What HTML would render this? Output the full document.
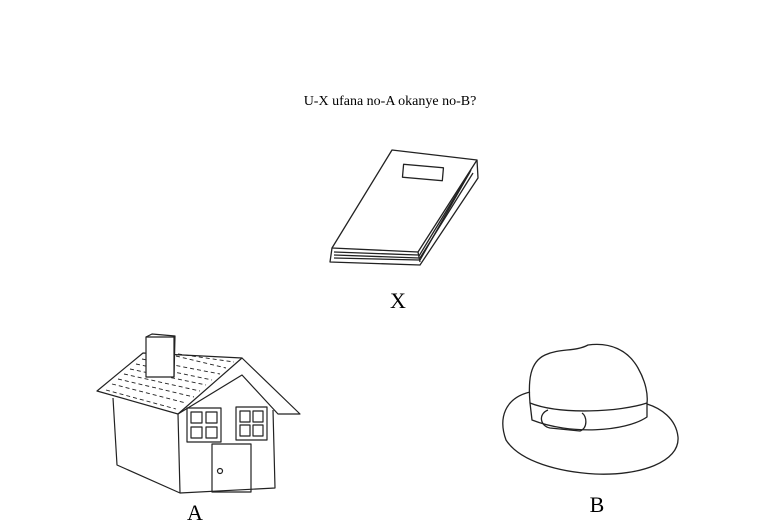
<!DOCTYPE html>
<html><head><meta charset="utf-8"><style>
html,body{margin:0;padding:0;background:#fff;}
svg{display:block;}
text{font-family:"Liberation Serif",serif;fill:#000;}
</style></head><body>
<svg width="783" height="529" viewBox="0 0 783 529">
<text x="390" y="105" font-size="14" text-anchor="middle">U-X ufana no-A okanye no-B?</text>

<g fill="none" stroke="#222" stroke-width="1.3" stroke-linejoin="round">
<path d="M392,150 L477,160 L418,252 L332,248 Z" fill="#fff"/>
<rect x="403" y="166" width="40" height="13" transform="rotate(5 423 172)"/>
<path d="M332,248 L330,262 L420,265 L478,178 L477,160"/>
<path d="M418,252 L420,262 M471,170 L420,260"/>
<path d="M334,252 L418,255 M334,255 L419,258 M334,258 L419,260 M470,172 L419,256 M473,173 L420,258"/>
</g>
<text x="398" y="308" font-size="22" text-anchor="middle">X</text>

<g fill="none" stroke="#222" stroke-width="1.2" stroke-linejoin="round">
<path d="M143,353 L242,358 L178,414 L97,391 Z" fill="#fff"/>
<path d="M242,358 L300,414 L278,414 L242,375 L178,414"/>
<path d="M113,398 L117,465 L180,493 L178,414"/>
<path d="M180,493 L275,488 L273,410"/>
<g stroke-dasharray="4 3" stroke-width="0.9">
<path d="M106,390 L176,409 M112,384 L186,403 M118,379 L194,397 M124,374 L200,391 M130,369 L206,385 M136,364 L212,380 M142,359 L220,374 M176,356 L226,368 M178,354 L234,362"/>
</g>
<rect x="146" y="337" width="28" height="40" fill="#fff"/>
<path d="M146,337 L152,334 L175,336 L174,377"/>
<rect x="187" y="408" width="34" height="34"/>
<rect x="191" y="412" width="11" height="11"/><rect x="206" y="412" width="11" height="11"/>
<rect x="191" y="427" width="11" height="11"/><rect x="206" y="427" width="11" height="11"/>
<rect x="236" y="407" width="31" height="33"/>
<rect x="240" y="411" width="10" height="11"/><rect x="253" y="411" width="10" height="11"/>
<rect x="240" y="425" width="10" height="11"/><rect x="253" y="425" width="10" height="11"/>
<rect x="212" y="444" width="39" height="48"/>
<circle cx="220" cy="471" r="2.5"/>
</g>
<text x="195" y="520" font-size="22" text-anchor="middle">A</text>

<g fill="none" stroke="#222" stroke-width="1.3" stroke-linejoin="round">
<path d="M530,392 C505,398 498,418 506,440 C520,462 560,472 595,474 C640,476 680,462 678,437 C676,418 660,408 647,404"/>
<path d="M530,403 C528,380 530,362 545,355 C560,348 575,352 588,345 C610,342 628,350 638,368 C646,382 648,395 647,403"/>
<path d="M530,403 C560,415 620,412 647,403 L647,417 C625,432 570,435 532,420 Z"/>
<path d="M548,410 C538,414 540,426 550,428 L580,431 C588,428 587,416 582,413"/>
</g>
<text x="597" y="512" font-size="22" text-anchor="middle">B</text>
</svg>
</body></html>
